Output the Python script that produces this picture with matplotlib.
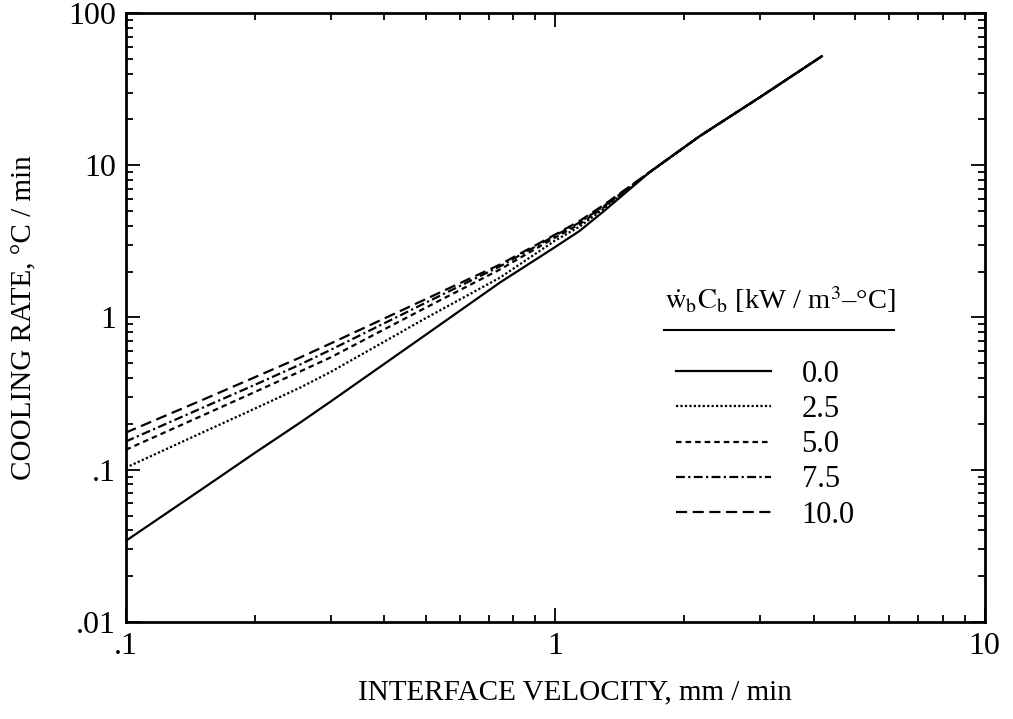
import numpy as np
import matplotlib
matplotlib.use("Agg")
import matplotlib.pyplot as plt
from matplotlib.ticker import LogLocator, NullFormatter

plt.rcParams["font.family"] = ["Liberation Serif", "DejaVu Serif"]
plt.rcParams["mathtext.fontset"] = "stix"

# values (velocity mm/min, cooling rate C/min)
x_low = [0.1, 0.15, 0.2, 0.255, 0.3, 0.5, 0.745, 1.0, 1.14, 1.3]
x_tail = [1.66, 2.17, 3.0, 4.18]
y_tail = [9.0, 15.5, 28.0, 52.0]

y_00 = [0.034, 0.074, 0.129, 0.204, 0.28, 0.77, 1.70, 2.9, 3.7, 5.0]
y_25 = [0.103, 0.174, 0.252, 0.346, 0.438, 0.99, 1.83, 3.2, 3.95, 5.2]
y_50 = [0.135, 0.225, 0.324, 0.442, 0.546, 1.16, 2.07, 3.35, 4.1, 5.3]
y_75 = [0.153, 0.253, 0.361, 0.491, 0.612, 1.25, 2.17, 3.45, 4.2, 5.4]
y_100 = [0.175, 0.285, 0.405, 0.546, 0.674, 1.32, 2.23, 3.5, 4.3, 5.5]

labels = ["0.0", "2.5", "5.0", "7.5", "10.0"]
series = [y_00, y_25, y_50, y_75, y_100]
styles = ["-", (0, (1, 1)), (0, (2.5, 1.8)), (0, (4, 1.5, 1, 1.5)), (0, (5, 2.5))]

fig, ax = plt.subplots(figsize=(10.13, 7.19), dpi=100)
fig.subplots_adjust(left=0.124, right=0.972, top=0.982, bottom=0.135)

for yv, lab, ls in zip(series, labels, styles):
    ax.plot(x_low + x_tail, yv + y_tail, color="black", lw=1.6, linestyle=ls, label=lab)

ax.set_xscale("log")
ax.set_yscale("log")
ax.set_xlim(0.1, 10)
ax.set_ylim(0.01, 100)

ax.set_xticks([0.1, 1, 10], [".1", "1", "10"])
ax.set_yticks([0.01, 0.1, 1, 10, 100], [".01", ".1", "1", "10", "100"])
ax.xaxis.set_minor_locator(LogLocator(base=10, subs=np.arange(2, 10)))
ax.yaxis.set_minor_locator(LogLocator(base=10, subs=np.arange(2, 10)))
ax.xaxis.set_minor_formatter(NullFormatter())
ax.yaxis.set_minor_formatter(NullFormatter())
ax.tick_params(which="both", direction="in", top=True, right=True, width=1.3, labelsize=23)
ax.tick_params(which="major", length=10)
ax.tick_params(which="minor", length=5)
ax.tick_params(axis="x", which="major", pad=7)
ax.tick_params(axis="y", which="major", pad=7)
for sp in ax.spines.values():
    sp.set_linewidth(2)

ax.set_xlabel("INTERFACE VELOCITY, mm / min", fontsize=21)
ax.set_ylabel("COOLING RATE, °C / min", fontsize=21, labelpad=22)
ax.xaxis.set_label_coords(0.523, -0.094)

# legend title with underline
ax.text(0.762, 0.529, r"$\dot{\mathrm{w}}_{\mathrm{b}}\mathrm{C}_{\mathrm{b}}$ [kW / m$^3$–°C]",
        transform=ax.transAxes, ha="center", va="center", fontsize=20.5)
ax.plot([0.627, 0.895], [0.479, 0.479], color="black", lw=1.5, transform=ax.transAxes)

ax.legend(frameon=False, fontsize=22, handlelength=3.1, handletextpad=1.0,
          labelspacing=0.2, loc="upper left", borderpad=0, borderaxespad=0,
          bbox_to_anchor=(0.641, 0.43))

fig.savefig("out.png", dpi=100)
